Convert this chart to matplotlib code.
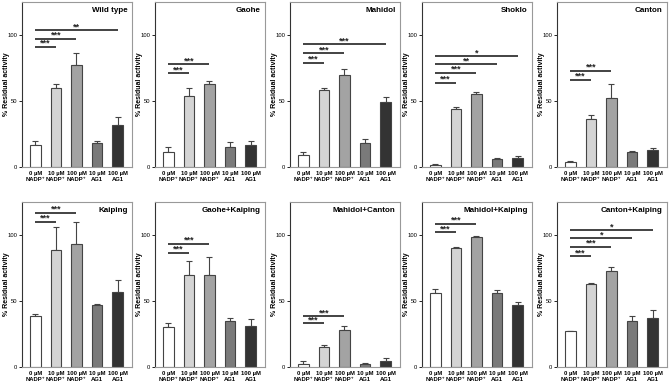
import numpy as np
import matplotlib
matplotlib.use('Agg')
import matplotlib.pyplot as plt

plt.rcParams['font.family'] = ['Liberation Sans', 'DejaVu Sans']

# conditions on the x axis
conditions = ["0 \u00b5M\nNADP\u207a", "10 \u00b5M\nNADP\u207a", "100 \u00b5M\nNADP\u207a",
              "10 \u00b5M\nAG1", "100 \u00b5M\nAG1"]
bar_colors = ["#ffffff", "#d4d4d4", "#a3a3a3", "#7a7a7a", "#333333"]

titles = ["Wild type", "Gaohe", "Mahidol", "Shoklo", "Canton",
          "Kaiping", "Gaohe+Kaiping", "Mahidol+Canton", "Mahidol+Kaiping", "Canton+Kaiping"]

means = [
    [17, 60, 77, 18, 32],
    [11, 54, 63, 15, 17],
    [9, 58, 70, 18, 49],
    [1.5, 44, 55, 6, 7],
    [4, 36, 52, 11, 13],
    [39, 89, 93, 47, 57],
    [30, 70, 70, 35, 31],
    [2.5, 15, 28, 2, 4.5],
    [56, 90, 98.5, 56, 47],
    [27, 63, 73, 35, 37],
]
errors = [
    [3, 2.5, 9, 2, 5.5],
    [4, 6, 2, 4, 3],
    [2, 1.5, 4, 3, 4],
    [0.5, 1.5, 1.5, 1, 1],
    [0.5, 3.5, 11, 1, 1.5],
    [1, 17, 17, 0.5, 9],
    [3, 10, 13, 2, 5],
    [2, 1.5, 3, 1, 2],
    [3, 1, 0.5, 2, 2],
    [0.5, 1, 2.5, 3.5, 6],
]
# significance brackets: (from, to, height, label)
signif = [
    [(0, 1, 91, "***"), (0, 2, 97, "***"), (0, 4, 103.5, "**")],
    [(0, 1, 71, "***"), (0, 2, 78, "***")],
    [(0, 1, 79, "***"), (0, 2, 86, "***"), (0, 4, 93, "***")],
    [(0, 1, 64, "***"), (0, 2, 71.5, "***"), (0, 3, 78, "**"), (0, 4, 84, "*")],
    [(0, 1, 66, "***"), (0, 2, 73, "***")],
    [(0, 1, 110, "***"), (0, 2, 117, "***")],
    [(0, 1, 86.5, "***"), (0, 2, 93.5, "***")],
    [(0, 1, 33, "***"), (0, 2, 38.6, "***")],
    [(0, 1, 102, "***"), (0, 2, 108.6, "***")],
    [(0, 1, 84, "***"), (0, 2, 91, "***"), (0, 3, 97.5, "*"), (0, 4, 103.6, "*")],
]

W, H = 669, 384
fig = plt.figure(figsize=(W / 100, H / 100), dpi=100)

lefts = [22, 155, 290, 422, 557]
tops = [2, 202]
aw, ah = 110, 165

x = np.arange(5)
for k in range(10):
    row, col = divmod(k, 5)
    ax = fig.add_axes([lefts[col] / W, 1 - (tops[row] + ah) / H, aw / W, ah / H])
    m = np.array(means[k])
    e = np.array(errors[k])
    ax.bar(x, m, width=0.5, color=bar_colors, edgecolor="#444444", linewidth=0.8, zorder=2)
    ax.errorbar(x, m, yerr=[np.zeros(5), e], fmt="none", ecolor="#444444",
                elinewidth=0.8, capsize=2.5, capthick=0.8, zorder=1)
    for i, j, h, lab in signif[k]:
        ax.plot([x[i], x[j]], [h, h], color="#222222", lw=1.2, solid_capstyle="butt")
        ax.text((x[i] + x[j]) / 2, h - 0.8, lab, ha="center", va="bottom",
                fontsize=6.5, fontweight="bold", color="#222222")
    ax.set_xlim(-0.65, 4.7)
    ax.set_ylim(0, 125)
    ax.set_yticks([0, 50, 100])
    ax.set_xticks(x)
    ax.set_xticklabels(conditions, fontsize=4.2, fontweight="bold", linespacing=1.3)
    ax.tick_params(axis="x", length=0, pad=3)
    ax.tick_params(axis="y", labelsize=4.2, length=2, width=0.6, pad=1.5)
    ax.set_ylabel("% Residual activity", fontsize=5, fontweight="bold")
    ax.yaxis.set_label_coords(-0.11, 0.5)
    for s in ["top", "right", "bottom"]:
        ax.spines[s].set_color("#999999")
        ax.spines[s].set_linewidth(0.8)
    ax.spines["left"].set_color("#333333")
    ax.spines["left"].set_linewidth(0.8)
    ax.text(0.96, 0.97, titles[k], transform=ax.transAxes, ha="right", va="top",
            fontsize=5.8, fontweight="bold")

fig.savefig("out.png", dpi=100)
